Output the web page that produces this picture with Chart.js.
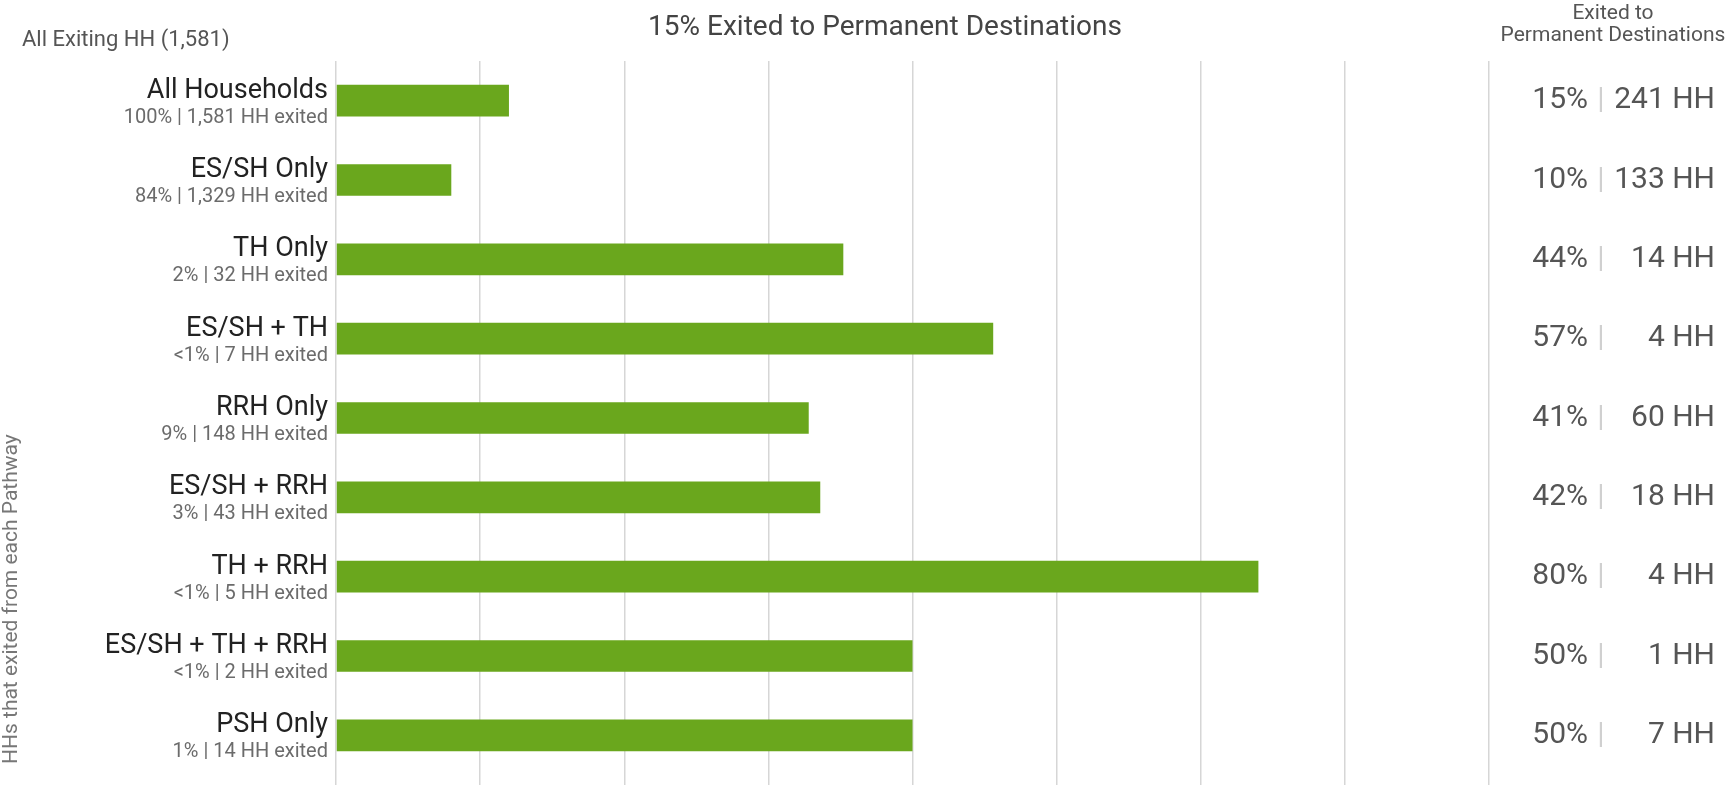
<!DOCTYPE html>
<html>
<head>
<meta charset="utf-8">
<script src="https://cdn.jsdelivr.net/npm/chart.js@4"></script>
<style>
  body { margin: 0; background: #fff; }
  #wrap { width: 1732px; height: 785px; position: relative; }
</style>
</head>
<body>
<div id="wrap"><canvas id="pathwayChart"></canvas></div>
<script>
// Pathways (categories) and what share of all exits each one is
const pathways = ['All Households', 'ES/SH Only', 'TH Only', 'ES/SH + TH', 'RRH Only',
    'ES/SH + RRH', 'TH + RRH', 'ES/SH + TH + RRH', 'PSH Only'];
const exitShare = ['100%', '84%', '2%', '<1%', '9%', '3%', '<1%', '<1%', '1%'];
const exitedHH = ['1,581', '1,329', '32', '7', '148', '43', '5', '2', '14'];

// Exited to permanent destinations
const permanentPct = [15, 10, 44, 57, 41, 42, 80, 50, 50];
const permanentHH = [241, 133, 14, 4, 60, 18, 4, 1, 7];

// x axis gridline spacing (labels hidden)
const xTicks = [0, 12.5, 25, 37.5, 50, 62.5, 75, 87.5, 100];

const FONT = 'Roboto, "Noto Sans", sans-serif';

// draws the two-line row labels, the right-hand column and the headers
const textPlugin = {
    id: 'pathwayText',
    afterDraw(chart) {
        const ctx = chart.ctx;
        const yScale = chart.scales.y;
        const area = chart.chartArea;
        ctx.save();

        pathways.forEach((name, i) => {
            const y = yScale.getPixelForValue(i);

            ctx.textAlign = 'right';
            ctx.textBaseline = 'alphabetic';
            ctx.fillStyle = '#222';
            ctx.font = '27px ' + FONT;
            ctx.fillText(name, area.left - 8, y - 3);

            ctx.fillStyle = '#6b6b6b';
            ctx.font = '20px ' + FONT;
            ctx.fillText(exitShare[i] + ' | ' + exitedHH[i] + ' HH exited', area.left - 8, y + 22);

            // right column
            ctx.textBaseline = 'middle';
            ctx.font = '30px ' + FONT;
            ctx.fillStyle = '#555';
            ctx.fillText(permanentPct[i] + '%', 1588, y);
            ctx.fillText(permanentHH[i] + ' HH', 1715, y);
            ctx.textAlign = 'center';
            ctx.fillStyle = '#d0d0d0';
            ctx.fillText('|', 1601, y);
        });

        // headers
        ctx.textBaseline = 'alphabetic';
        ctx.textAlign = 'left';
        ctx.fillStyle = '#555';
        ctx.font = '22px ' + FONT;
        ctx.fillText('All Exiting HH (1,581)', 22, 46);

        ctx.textAlign = 'center';
        ctx.fillStyle = '#444';
        ctx.font = '28px ' + FONT;
        ctx.fillText('15% Exited to Permanent Destinations', 885, 35);

        ctx.fillStyle = '#555';
        ctx.font = '21px ' + FONT;
        ctx.fillText('Exited to', 1613, 19);
        ctx.fillText('Permanent Destinations', 1613, 41);

        // rotated y axis title
        ctx.translate(12, 764);
        ctx.rotate(-Math.PI / 2);
        ctx.textAlign = 'left';
        ctx.textBaseline = 'middle';
        ctx.fillStyle = '#777';
        ctx.font = '21px ' + FONT;
        ctx.fillText('HHs that exited from each Pathway', 0, 0);

        ctx.restore();
    }
};

const ctx = document.getElementById('pathwayChart').getContext('2d');
new Chart(ctx, {
    type: 'bar',
    data: {
        labels: pathways,
        datasets: [{
            label: 'Exited to Permanent Destinations',
            data: permanentPct,
            backgroundColor: '#6aa71d',
            borderWidth: 0,
            categoryPercentage: 1,
            barPercentage: 0.4
        }]
    },
    options: {
        indexAxis: 'y',
        responsive: true,
        maintainAspectRatio: false,
        animation: false,
        layout: {
            padding: { left: 0, right: 243, top: 61, bottom: 0 }
        },
        scales: {
            x: {
                min: 0,
                max: 100,
                afterBuildTicks: function(scale) {
                    scale.ticks = xTicks.map(v => ({ value: v }));
                },
                ticks: { display: false },
                grid: {
                    color: '#d6d6d6',
                    lineWidth: 1.5,
                    drawTicks: true,
                    tickLength: 10
                },
                border: { display: false }
            },
            y: {
                afterFit: function(scale) {
                    scale.width = 336;
                },
                ticks: { display: false },
                grid: { display: false, drawTicks: false },
                border: { display: false }
            }
        },
        plugins: {
            legend: { display: false },
            tooltip: { enabled: false }
        }
    },
    plugins: [textPlugin]
});
</script>
</body>
</html>
